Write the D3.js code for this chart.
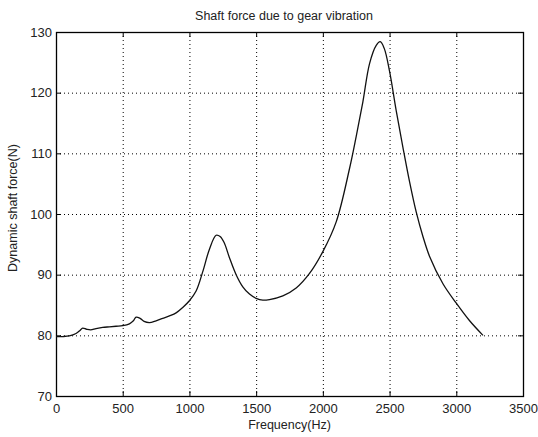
<!DOCTYPE html>
<html><head><meta charset="utf-8">
<script src="https://cdn.jsdelivr.net/npm/d3@7"></script>
<style>
body{margin:0;background:#fff;}
text{font-family:Arial,"Liberation Sans",Helvetica,sans-serif;fill:#222;}
</style></head>
<body>
<svg id="c" width="538" height="437"></svg>
<script>
const title = "Shaft force due to gear vibration";
const xLabel = "Frequency(Hz)";
const yLabel = "Dynamic shaft force(N)";
const xTicks = [0,500,1000,1500,2000,2500,3000,3500];
const yTicks = [70,80,90,100,110,120,130];
const freq = [0,50,100,150,180,200,230,260,300,350,400,450,500,550,580,600,630,660,700,750,800,850,900,950,1000,1050,1100,1150,1200,1230,1260,1300,1350,1400,1450,1500,1550,1600,1700,1800,1900,2000,2100,2200,2250,2300,2350,2400,2430,2460,2500,2550,2600,2650,2700,2750,2800,2900,3000,3100,3200];
const force = [79.8,79.8,79.9,80.3,80.8,81.2,81.0,80.9,81.1,81.3,81.4,81.5,81.6,81.9,82.4,83.0,82.8,82.3,82.1,82.4,82.8,83.2,83.7,84.6,85.7,87.3,90.5,94.2,96.5,96.3,95.3,92.8,90.0,88.0,86.8,86.1,85.8,85.9,86.5,87.8,90.2,93.8,98.7,107.5,112.8,118.5,124.8,127.8,128.4,127.3,123.5,117.0,111.0,105.3,100.3,96.3,93.0,88.5,85.3,82.4,80.0];

const svg = d3.select("#c");
const L=56, R=523, T=32, B=396;
const x = d3.scaleLinear().domain([0,3500]).range([L,R]);
const y = d3.scaleLinear().domain([70,130]).range([B,T]);

const grid = svg.append("g").attr("stroke","#000").attr("stroke-width",1).attr("stroke-dasharray","1,3");
xTicks.slice(1,-1).forEach(t=>grid.append("line").attr("x1",x(t)+0.5).attr("x2",x(t)+0.5).attr("y1",T).attr("y2",B));
yTicks.slice(1,-1).forEach(t=>grid.append("line").attr("y1",y(t)+0.5).attr("y2",y(t)+0.5).attr("x1",L).attr("x2",R));

const xa = svg.append("g").attr("transform",`translate(0,${B})`)
  .call(d3.axisBottom(x).tickValues(xTicks).tickSize(-5).tickPadding(8).tickFormat(d3.format("d")));
const xt = svg.append("g").attr("transform",`translate(0,${T})`)
  .call(d3.axisTop(x).tickValues(xTicks).tickSize(-5).tickFormat(""));
const ya = svg.append("g").attr("transform",`translate(${L},0)`)
  .call(d3.axisLeft(y).tickValues(yTicks).tickSize(-5).tickPadding(4).tickFormat(d3.format("d")));
const yr = svg.append("g").attr("transform",`translate(${R},0)`)
  .call(d3.axisRight(y).tickValues(yTicks).tickSize(-5).tickFormat(""));
[xa,xt,ya,yr].forEach(g=>{
  g.selectAll("path").remove();
  g.selectAll("line").attr("stroke","#000");
  g.selectAll("text").attr("font-size",13).attr("fill","#333");
});
xa.selectAll("text").attr("dy","0.71em");

svg.append("rect").attr("x",L+0.5).attr("y",T+0.5).attr("width",R-L).attr("height",B-T)
  .attr("fill","none").attr("stroke","#000").attr("stroke-width",1.3);

const pts = freq.map((f,i)=>[f,force[i]]);
svg.append("path").datum(pts)
  .attr("fill","none").attr("stroke","#111").attr("stroke-width",1.3)
  .attr("d", d3.line().x(d=>x(d[0])).y(d=>y(d[1])).curve(d3.curveCatmullRom.alpha(0.5)));

svg.append("text").attr("x",284).attr("y",20).attr("text-anchor","middle").attr("font-size",12.5).attr("fill","#333").text(title);
svg.append("text").attr("x",(L+R)/2).attr("y",429).attr("text-anchor","middle").attr("font-size",12.5).attr("fill","#333").text(xLabel);
svg.append("text").attr("transform","translate(17,208) rotate(-90)").attr("text-anchor","middle").attr("font-size",12.5).attr("fill","#333").text(yLabel);
</script>
</body></html>
